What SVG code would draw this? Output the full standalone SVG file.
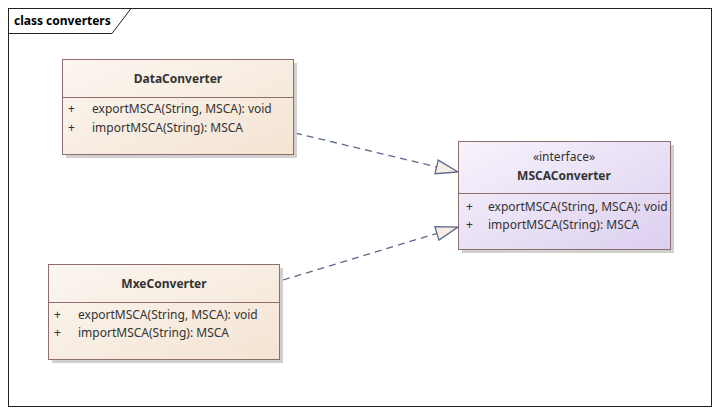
<svg xmlns="http://www.w3.org/2000/svg" width="720" height="415" viewBox="0 0 720 415">
<defs>
<linearGradient id="gb" x1="0" y1="0" x2="1" y2="1">
<stop offset="0" stop-color="#fbf6f0"/>
<stop offset="1" stop-color="#f4e4d3"/>
</linearGradient>
<linearGradient id="gv" x1="0" y1="0" x2="1" y2="1">
<stop offset="0" stop-color="#f7f3fc"/>
<stop offset="1" stop-color="#dccff0"/>
</linearGradient>
<marker id="tri" viewBox="0 0 24 16" refX="23" refY="8" markerWidth="24" markerHeight="16" markerUnits="userSpaceOnUse" orient="auto">
<path d="M1,1 L23,8 L1,15 Z" fill="#f7ede4" stroke="#5b6a8b" stroke-width="1.3" stroke-linejoin="miter"/>
</marker>
</defs>
<style>
text{font-family:"Noto Sans","Open Sans","Liberation Sans",sans-serif;font-size:12px;fill:#333}
.t{font-weight:bold;text-anchor:middle}
.s{text-anchor:middle}
.box{stroke:#8c6e6e;stroke-width:1}
.sh{fill:#d0d0d0}
.div{stroke:#8c6e6e;stroke-width:1}
.con{fill:none;stroke:#5b6a8b;stroke-width:1.3;stroke-dasharray:7,5}
</style>
<rect x="0" y="0" width="720" height="415" fill="#fff"/>
<g id="frame">
<rect x="8.5" y="8.5" width="703" height="398" fill="none" stroke="#222" stroke-width="1"/>
<path d="M8.5,33.5 H112 L131,8.5" fill="none" stroke="#222" stroke-width="1"/>
<text x="14" y="25" style="font-size:12px;font-weight:bold;fill:#000">class converters</text>
</g>
<g id="connectors">
<path class="con" d="M295,133 L458,172" marker-end="url(#tri)"/>
<path class="con" d="M283,280 L458,227" marker-end="url(#tri)"/>
</g>
<g id="DataConverter">
<rect class="sh" x="66" y="63" width="231" height="95"/>
<rect class="box" x="62.5" y="59.5" width="231" height="95" fill="url(#gb)"/>
<line class="div" x1="62.5" y1="97.5" x2="293.5" y2="97.5"/>
<text class="t" x="178" y="83">DataConverter</text>
<text x="68" y="113">+</text>
<text x="92" y="113">exportMSCA(String, MSCA): void</text>
<text x="68" y="132">+</text>
<text x="92" y="132">importMSCA(String): MSCA</text>
</g>
<g id="MSCAConverter">
<rect class="sh" x="462" y="145" width="212" height="108"/>
<rect class="box" x="458.5" y="141.5" width="212" height="108" fill="url(#gv)"/>
<line class="div" x1="458.5" y1="193.5" x2="670.5" y2="193.5"/>
<text class="s" x="564" y="161">«interface»</text>
<text class="t" x="564" y="180">MSCAConverter</text>
<text x="466" y="211">+</text>
<text x="488" y="211">exportMSCA(String, MSCA): void</text>
<text x="466" y="229">+</text>
<text x="488" y="229">importMSCA(String): MSCA</text>
</g>
<g id="MxeConverter">
<rect class="sh" x="52" y="268" width="231" height="95"/>
<rect class="box" x="48.5" y="264.5" width="231" height="95" fill="url(#gb)"/>
<line class="div" x1="48.5" y1="302.5" x2="279.5" y2="302.5"/>
<text class="t" x="164" y="288">MxeConverter</text>
<text x="54" y="319">+</text>
<text x="78" y="319">exportMSCA(String, MSCA): void</text>
<text x="54" y="337">+</text>
<text x="78" y="337">importMSCA(String): MSCA</text>
</g>
</svg>
